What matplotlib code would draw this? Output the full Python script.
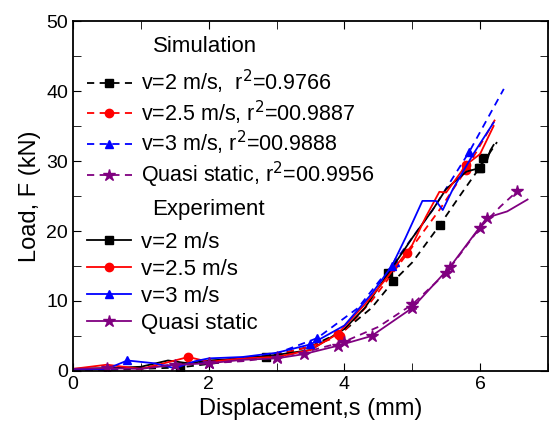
import numpy as np
import matplotlib
matplotlib.use("Agg")
import matplotlib.pyplot as plt
from matplotlib.ticker import MultipleLocator

# ---- simulation (dashed) ----
sim_v2_x = [0, 1, 1.57, 2, 2.85, 3.5, 4, 4.4, 4.72, 5, 5.41, 5.7, 5.99, 6.25]
sim_v2_y = [0, 0.3, 0.5, 1, 2.0, 3.5, 5.8, 9, 12.8, 15.5, 20.9, 25, 29, 32.7]
sim_v25_x = [0, 1, 2, 3, 3.5, 3.93, 4.4, 4.93, 5.4, 5.79, 6.22]
sim_v25_y = [0, 0.5, 1.2, 2.3, 3.5, 5, 10, 16.8, 23, 28.7, 35.9]
sim_v3_x = [0, 1, 2, 3, 3.6, 4.2, 4.74, 5.3, 5.84, 6.35]
sim_v3_y = [0, 0.5, 1.3, 2.5, 4.7, 9, 15.6, 23, 31.3, 40.3]
sim_qs_x = [0, 0.5, 1, 1.5, 2, 2.5, 3, 3.5, 4, 4.5, 5, 5.5, 6, 6.3, 6.55]
sim_qs_y = [0.1, 0.3, 0.5, 0.8, 1.1, 1.4, 2, 2.9, 4.2, 6.3, 9.5, 14, 20.5, 23.5, 25.7]

# ---- experiment (solid) ----
exp_v2_x = [0, 0.5, 1, 1.4, 1.7, 2, 2.5, 3, 3.5, 4, 4.3, 4.65, 5, 5.3, 5.5, 5.8, 6.0, 6.05, 6.1, 6.15, 6.2]
exp_v2_y = [0.3, 0.4, 0.6, 1.5, 1.1, 1.5, 1.8, 2.3, 3, 6, 9, 14, 19, 23, 26, 28.5, 29, 30.5, 30, 31.5, 32.3]
exp_v25_x = [0, 0.5, 1, 1.3, 1.7, 2, 2.5, 3, 3.5, 3.9, 4.3, 4.6, 5, 5.2, 5.4, 5.5, 5.8, 6.0, 6.2]
exp_v25_y = [0.3, 0.9, 0.3, 1, 2, 1.3, 1.8, 2, 3, 5.3, 9.5, 13, 18, 22, 25.6, 25.5, 29.5, 31, 35]
exp_v3_x = [0, 0.5, 0.8, 1.2, 1.5, 1.8, 2, 2.5, 3, 3.5, 4, 4.4, 4.7, 4.9, 5.15, 5.35, 5.45, 5.6, 5.9, 6.2]
exp_v3_y = [0.2, 0.3, 1.5, 1.1, 0.4, 1.4, 1.8, 2, 2.6, 3.8, 6.5, 11, 15, 19, 24.3, 24.3, 23, 26, 31, 35.5]
exp_qs_x = [0, 0.5, 1, 1.5, 2, 2.5, 3, 3.4, 3.9, 4.4, 5, 5.56, 6.1, 6.4, 6.7]
exp_qs_y = [0.3, 0.4, 0.3, 0.9, 1.1, 1.6, 1.8, 2.4, 3.6, 5, 9, 14.9, 21.9, 22.8, 24.5]

sim_labels = ["v=2 m/s,  r$^2$=0.9766", "v=2.5 m/s, r$^2$=00.9887",
              "v=3 m/s, r$^2$=00.9888", "Quasi static, r$^2$=00.9956"]
exp_labels = ["v=2 m/s", "v=2.5 m/s", "v=3 m/s", "Quasi static"]

colors = ["black", "red", "blue", "#800080"]
markers = ["s", "o", "^", "*"]
# which points carry a marker
sim_marks = [[2, 4, 8, 10, 12], [5, 7, 9], [4, 6, 8], [4, 6, 8, 10, 11, 12, 14]]
exp_marks = [[11, 16, 17], [4, 9, 16], [2, 9, 12], [1, 3, 4, 6, 7, 8, 9, 10, 11, 12]]

plt.rcParams['font.family'] = ['Liberation Sans', 'DejaVu Sans']

fig = plt.figure(figsize=(5.49, 4.38), dpi=100)
ax = fig.add_axes([0.133, 0.153, 0.865, 0.799])

sims = [(sim_v2_x, sim_v2_y), (sim_v25_x, sim_v25_y), (sim_v3_x, sim_v3_y), (sim_qs_x, sim_qs_y)]
exps = [(exp_v2_x, exp_v2_y), (exp_v25_x, exp_v25_y), (exp_v3_x, exp_v3_y), (exp_qs_x, exp_qs_y)]

sim_handles = []
for (x, y), c, m, lab, mk in zip(sims, colors, markers, sim_labels, sim_marks):
    ms = 9 if m == "*" else 6
    h, = ax.plot(x, y, color=c, ls=(0, (4, 3)), lw=1.3, marker=m, ms=ms,
                 markevery=mk, label=lab)
    sim_handles.append(h)

exp_handles = []
for (x, y), c, m, lab, mk in zip(exps, colors, markers, exp_labels, exp_marks):
    ms = 9 if m == "*" else 6
    h, = ax.plot(x, y, color=c, ls="-", lw=1.3, marker=m, ms=ms,
                 markevery=mk, label=lab)
    exp_handles.append(h)

ax.set_xlim(0, 7)
ax.set_ylim(0, 50)
ax.xaxis.set_major_locator(MultipleLocator(2))
ax.xaxis.set_minor_locator(MultipleLocator(1))
ax.yaxis.set_major_locator(MultipleLocator(10))
ax.yaxis.set_minor_locator(MultipleLocator(5))
ax.tick_params(which="both", direction="in", top=True, right=True, labelsize=14)
ax.tick_params(which="major", length=6)
ax.tick_params(which="minor", length=6)
for s in ax.spines.values():
    s.set_linewidth(1.3)

ax.set_xlabel("Displacement,s (mm)", fontsize=17)
ax.set_ylabel("Load, F (kN)", fontsize=17)

ax.text(1.94, 46.4, "Simulation", fontsize=16, ha="center", va="center")
ax.text(1.99, 23.1, "Experiment", fontsize=16, ha="center", va="center")

leg1 = ax.legend(handles=sim_handles, loc="upper left",
                 bbox_to_anchor=(0.015, 0.885), frameon=False, fontsize=15.5,
                 handlelength=2.1, handletextpad=0.45,
                 labelspacing=0.12, borderaxespad=0.2, borderpad=0.1)
ax.add_artist(leg1)
ax.legend(handles=exp_handles, loc="upper left",
          bbox_to_anchor=(0.015, 0.417), frameon=False, fontsize=16,
          handlelength=2.0, handletextpad=0.45,
          labelspacing=0.27, borderaxespad=0.2, borderpad=0.1)

fig.savefig("out.png", dpi=100)
